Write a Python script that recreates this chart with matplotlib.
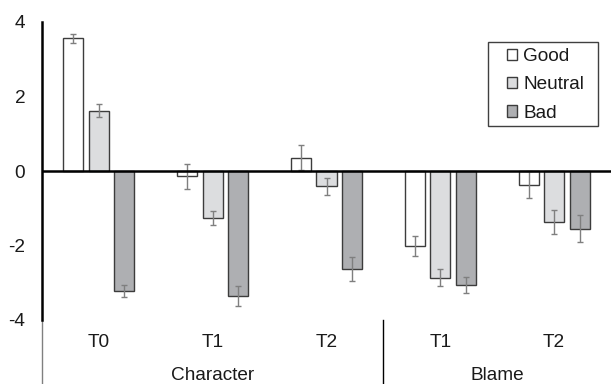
import matplotlib.pyplot as plt
from matplotlib.patches import Patch, Rectangle
import numpy as np

plt.rcParams['font.family'] = ['Liberation Sans', 'DejaVu Sans']

categories = ["T0", "T1", "T2", "T1", "T2"]
groups = ["Character", "Blame"]
group_sizes = [3, 2]

good = [3.56, -0.14, 0.36, -2.01, -0.37]
neutral = [1.62, -1.26, -0.41, -2.87, -1.38]
bad = [-3.22, -3.35, -2.63, -3.06, -1.55]

good_err = [0.13, 0.33, 0.33, 0.27, 0.36]
neutral_err = [0.17, 0.18, 0.23, 0.23, 0.32]
bad_err = [0.17, 0.27, 0.31, 0.22, 0.36]

series = [
	("Good", good, good_err, "#ffffff"),
	("Neutral", neutral, neutral_err, "#dcdddf"),
	("Bad", bad, bad_err, "#aeafb2"),
]

W, H = 611, 384
FS = 13.7
fig = plt.figure(figsize=(W / 100, H / 100), dpi=100)
ax = fig.add_axes([42 / W, 64 / H, (W - 42) / W, 298 / H])

x = np.arange(len(categories)) + 0.5
width = 0.176
step = 0.224
text_color = "#1a1a1a"

# bars + error bars
for i, (name, vals, errs, color) in enumerate(series):
	pos = x + (i - 1) * step
	ax.bar(pos, vals, width, color=color, edgecolor="#3c3c3c", linewidth=1, zorder=2)
	ax.errorbar(pos, vals, yerr=errs, fmt="none", ecolor="#7f7f7f",
				elinewidth=1, capsize=2.5, capthick=1, zorder=3)

ax.axhline(0, color="black", lw=1.8, zorder=4)
ax.set_xlim(0, len(categories))
ax.set_ylim(-4, 4)
ax.set_yticks([-4, -2, 0, 2, 4])
ax.set_yticklabels(["-4", "-2", "0", "2", "4"])
ax.set_xticks([])
ax.tick_params(axis="y", length=0, pad=12, labelsize=FS, labelcolor=text_color)
for s in ["top", "right", "bottom"]:
	ax.spines[s].set_visible(False)
ax.spines["left"].set_linewidth(1.8)
ax.spines["left"].set_color("black")

# category labels under the axis
trans = ax.get_xaxis_transform()
for xi, lab in zip(x, categories):
	ax.text(xi, -0.076, lab, transform=trans, ha="center", va="center",
			fontsize=FS, color=text_color)

# group labels and separators
start = 0
for g, n in zip(groups, group_sizes):
	ax.text(start + n / 2, -0.187, g, transform=trans, ha="center", va="center",
			fontsize=FS, color=text_color)
	ax.plot([start, start], [0, -0.215], transform=trans, clip_on=False,
			color="#808080" if start == 0 else "black", lw=1)
	start += n

# legend
handles = [Patch(facecolor=c, edgecolor="#3c3c3c", linewidth=1, label=n) for n, _, _, c in series]
ax.legend(handles=handles, loc="upper left", bbox_to_anchor=(507 / W, (H - 48) / H),
		  bbox_transform=fig.transFigure, frameon=False, fontsize=FS,
		  handlelength=0.55, handleheight=0.55, handletextpad=0.3,
		  labelspacing=0.6, borderpad=0, borderaxespad=0, labelcolor=text_color)
fig.patches.append(Rectangle((487.7 / W, (H - 125.7) / H), 110 / W, 84 / H,
							 transform=fig.transFigure, fill=False, ec="#404040", lw=1))

plt.savefig("out.png", dpi=100)
plt.close()
